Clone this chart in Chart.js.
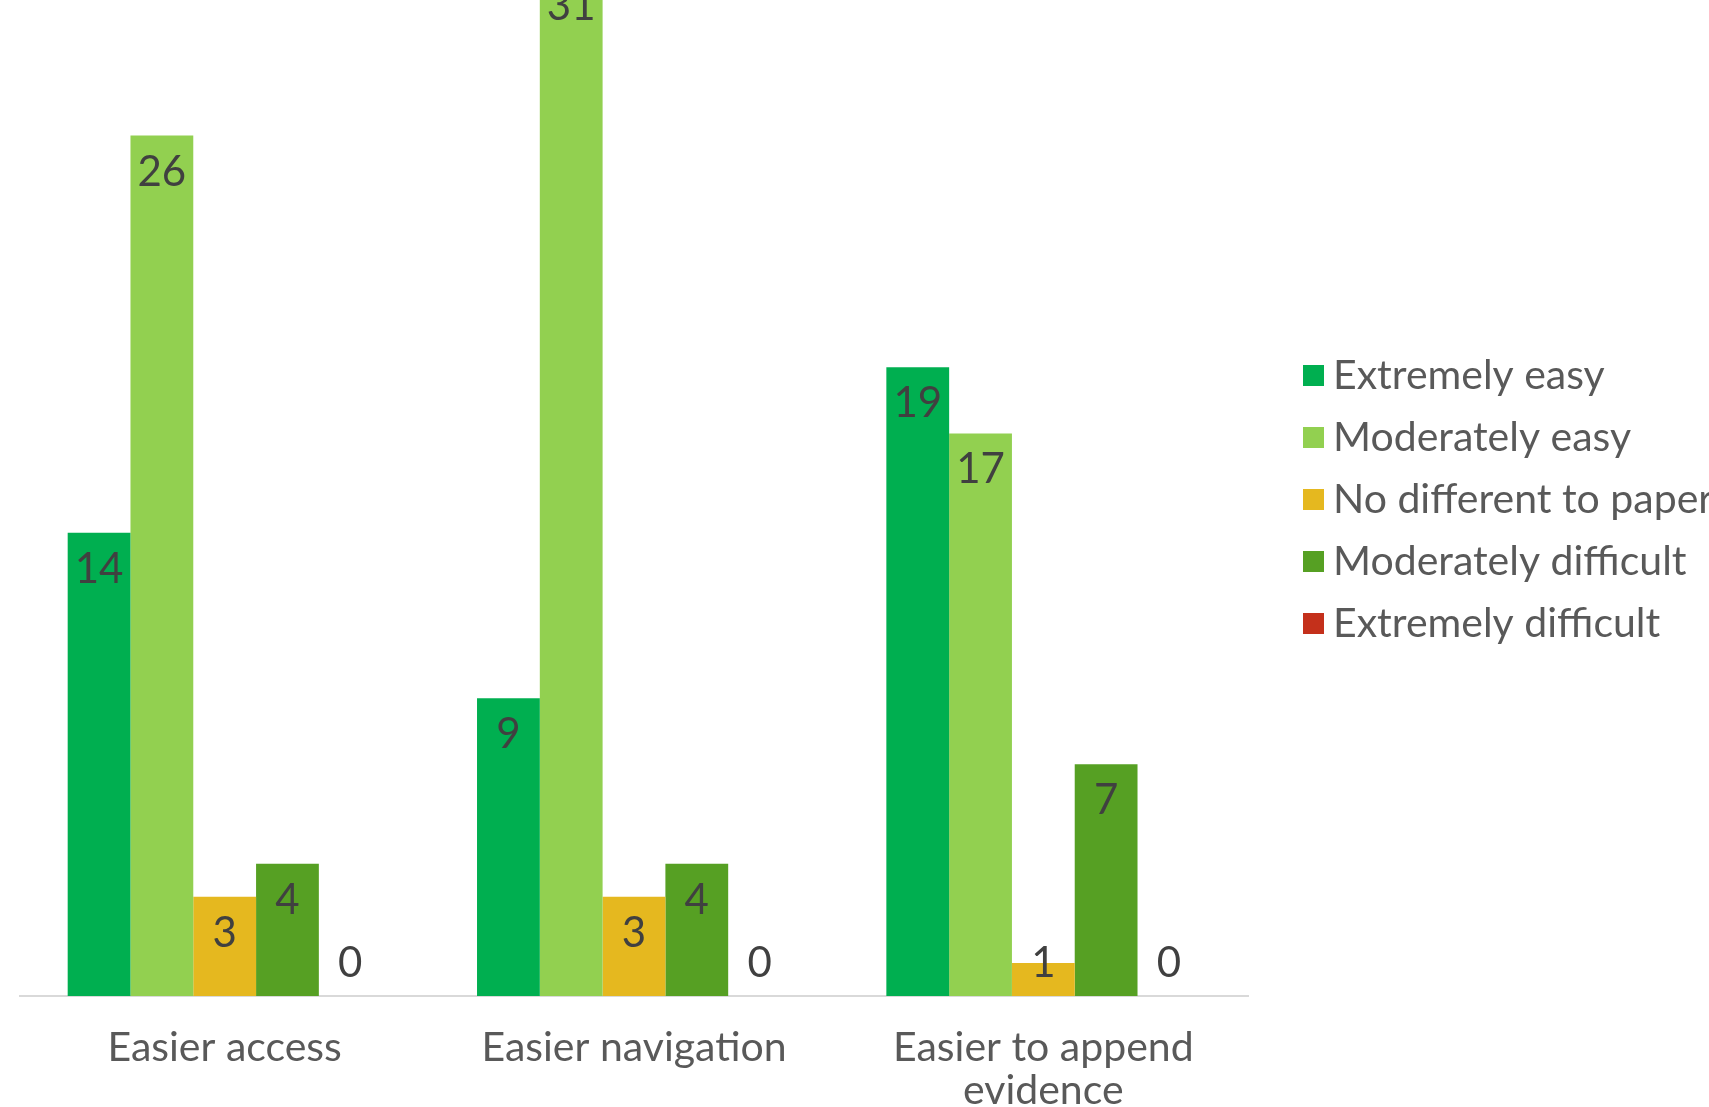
<!DOCTYPE html>
<html>
<head>
<meta charset="utf-8">
<script src="https://cdn.jsdelivr.net/npm/chart.js@4/dist/chart.umd.min.js"></script>
<style>
  html, body { margin: 0; padding: 0; background: #fff; overflow: hidden; }
  body { width: 1709px; height: 1107px; position: relative; }
  #chart { position: absolute; left: 0; top: -100px; }
</style>
</head>
<body>
<canvas id="chart" width="1709" height="1307"></canvas>
<script>
// data
const categories = ['Easier access', 'Easier navigation', ['Easier to append', 'evidence']];
const seriesNames = ['Extremely easy', 'Moderately easy', 'No different to paper', 'Moderately difficult', 'Extremely difficult'];
const extremelyEasy = [14, 9, 19];
const moderatelyEasy = [26, 31, 17];
const noDifferent = [3, 3, 1];
const moderatelyDifficult = [4, 4, 7];
const extremelyDifficult = [0, 0, 0];
const colors = ['#00AF50', '#92D050', '#E5B81F', '#56A023', '#C4301B'];

const OFFSET = 100; // canvas sits 100px above the page top

// value labels, Excel "inside end" style
const valueLabels = {
  id: 'valueLabels',
  afterDatasetsDraw(chart) {
    const ctx = chart.ctx;
    ctx.save();
    ctx.font = '42px Lato';
    ctx.fillStyle = '#404040';
    ctx.textAlign = 'center';
    ctx.textBaseline = 'alphabetic';
    chart.data.datasets.forEach((ds, i) => {
      chart.getDatasetMeta(i).data.forEach((bar, j) => {
        const y = Math.min(bar.y + 50, bar.base - 19);
        ctx.fillText(ds.data[j], bar.x, y);
      });
    });
    ctx.restore();
  }
};

// legend on the right (runs off the edge like the original)
const sideLegend = {
  id: 'sideLegend',
  afterDraw(chart) {
    const ctx = chart.ctx;
    ctx.save();
    ctx.font = '41px Lato';
    ctx.textBaseline = 'alphabetic';
    ctx.textAlign = 'left';
    chart.data.datasets.forEach((ds, i) => {
      const cy = 375.5 + i * 62 + OFFSET;
      ctx.fillStyle = ds.backgroundColor;
      ctx.fillRect(1303, cy - 10.5, 21, 21);
      ctx.fillStyle = '#595959';
      ctx.fillText(ds.label, 1333, cy + 13);
    });
    ctx.restore();
  }
};

const seriesData = [extremelyEasy, moderatelyEasy, noDifferent, moderatelyDifficult, extremelyDifficult];

new Chart(document.getElementById('chart'), {
  type: 'bar',
  data: {
    labels: categories,
    datasets: seriesNames.map((name, i) => ({
      label: name,
      data: seriesData[i],
      backgroundColor: colors[i],
      borderWidth: 0,
      categoryPercentage: 0.767,
      barPercentage: 1
    }))
  },
  options: {
    responsive: false,
    animation: false,
    devicePixelRatio: 1,
    layout: { padding: { top: 37, left: 20, right: 461, bottom: 0 } },
    plugins: {
      legend: { display: false },
      tooltip: { enabled: false }
    },
    scales: {
      x: {
        grid: { display: false, drawTicks: false },
        border: { display: true, color: '#D9D9D9', width: 2 },
        ticks: {
          font: { family: 'Lato', size: 41, lineHeight: 1.06 },
          color: '#595959',
          padding: 30,
          maxRotation: 0,
          autoSkip: false
        },
        afterFit(scale) { scale.height = 211; }
      },
      y: {
        display: false,
        min: 0,
        max: 32
      }
    }
  },
  plugins: [valueLabels, sideLegend]
});
</script>
</body>
</html>
